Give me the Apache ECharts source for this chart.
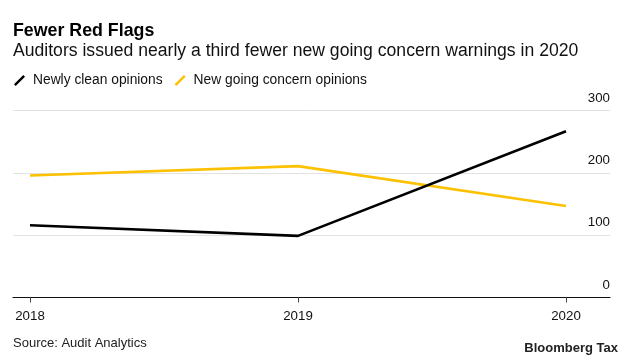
<!DOCTYPE html>
<html>
<head>
<meta charset="utf-8">
<script src="https://cdn.jsdelivr.net/npm/echarts@6/dist/echarts.min.js"></script>
<style>
html,body{margin:0;padding:0;background:#fff;}
#chart{width:633px;height:363px;}
</style>
</head>
<body>
<div id="chart"></div>
<script>
var years = [2018, 2019, 2020];
var newlyClean = [116, 99, 267];
var newGoingConcern = [196, 211, 147];
var yTicks = [0, 100, 200, 300];

var FONT = '"Liberation Sans", Arial, Helvetica, sans-serif';
var chart = echarts.init(document.getElementById('chart'), null, {renderer: 'canvas'});
var icon = 'path://M0,10 L10,0 L11.8,1.8 L1.8,11.8 Z';

function pairs(vals) {
  return years.map(function (y, i) { return [y, vals[i]]; });
}

chart.setOption({
  animation: false,
  backgroundColor: '#ffffff',
  title: [
    {text: 'Fewer Red Flags', left: 13, top: 22, padding: 0,
     textStyle: {fontFamily: FONT, fontSize: 17.8, fontWeight: 'bold', color: '#000'}},
    {text: 'Auditors issued nearly a third fewer new going concern warnings in 2020', left: 13, top: 42, padding: 0,
     textStyle: {fontFamily: FONT, fontSize: 17.6, fontWeight: 'normal', color: '#111'}},
    {text: 'Source: Audit Analytics', left: 13, top: 337, padding: 0,
     textStyle: {fontFamily: FONT, fontSize: 13, fontWeight: 'normal', color: '#222'}},
    {text: 'Bloomberg Tax', right: 15, top: 342, padding: 0,
     textStyle: {fontFamily: FONT, fontSize: 13, fontWeight: 'bold', color: '#222'}}
  ],
  legend: {
    left: 14, top: 73.5, padding: 0, itemWidth: 11, itemHeight: 11, itemGap: 12,
    textStyle: {fontFamily: FONT, fontSize: 13.8, color: '#111', padding: [0, 0, 0, 3]},
    data: [
      {name: 'Newly clean opinions', icon: icon, itemStyle: {color: '#000'}},
      {name: 'New going concern opinions', icon: icon, itemStyle: {color: '#fcc100'}}
    ]
  },
  grid: {left: 13, right: 23, top: 110.7, bottom: 65.5, containLabel: false},
  xAxis: {
    type: 'value',
    min: 2018 - 17 / 268,
    max: 2020 + 44 / 268,
    splitLine: {show: false},
    axisLine: {show: true, lineStyle: {color: '#111', width: 1.2}},
    axisTick: {show: true, customValues: years, length: 5, lineStyle: {color: '#444'}},
    axisLabel: {customValues: years, margin: 12, fontFamily: FONT, fontSize: 13.3, color: '#111',
                formatter: function (v) { return String(v); }}
  },
  yAxis: {
    type: 'value',
    position: 'right',
    min: 0, max: 300, interval: 100,
    axisLine: {show: false},
    axisTick: {show: false},
    splitLine: {show: true, lineStyle: {color: '#e2e2e2', width: 1}},
    axisLabel: {inside: true, margin: 0, align: 'right', verticalAlign: 'bottom', padding: [0, 0, 6, 0],
                fontFamily: FONT, fontSize: 13.3, color: '#111',
                formatter: function (v) { return yTicks.indexOf(v) >= 0 ? String(v) : ''; }}
  },
  series: [
    {name: 'Newly clean opinions', type: 'line', data: pairs(newlyClean), symbol: 'none',
     lineStyle: {color: '#000', width: 2.6}, itemStyle: {color: '#000'}, z: 3},
    {name: 'New going concern opinions', type: 'line', data: pairs(newGoingConcern), symbol: 'none',
     lineStyle: {color: '#fcc100', width: 2.6}, itemStyle: {color: '#fcc100'}, z: 2}
  ]
});
</script>
</body>
</html>
